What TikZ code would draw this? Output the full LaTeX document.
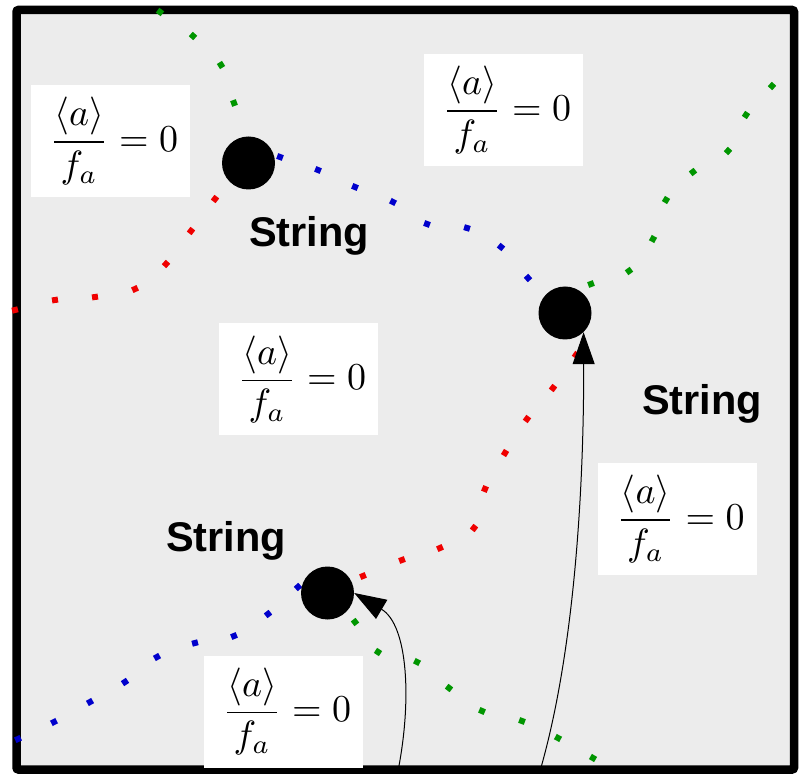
\documentclass[tikz,border=0pt]{standalone}
\usepackage{graphicx}
\usepackage{fontspec}
\newfontfamily\strfont{Liberation Sans}
\usetikzlibrary{arrows.meta}
\definecolor{bggray}{HTML}{ECECEC}
\definecolor{dred}{HTML}{F00000}
\definecolor{dblue}{HTML}{0000CC}
\definecolor{dgreen}{HTML}{009600}
\tikzset{
 sq/.style={rectangle, minimum size=6pt, inner sep=0pt, outer sep=0pt, fill=#1},
 core/.style={circle, fill=black, minimum size=53pt, inner sep=0pt},
 eqbox/.style={fill=white, minimum width=159pt, minimum height=112pt, inner sep=0pt},
 lab/.style={anchor=base, inner sep=0pt, font=\strfont\bfseries\fontsize{41.5}{44}\selectfont},
 arr/.style={line width=1pt, -{Triangle[length=32pt,width=22pt]}},
 frame/.style={line width=8.5pt, rounded corners=2pt, fill=bggray}
}
\newcommand\myeqn{\hspace*{7pt}\scalebox{3.8}{$\displaystyle\frac{\langle a\rangle}{f_a}=0$}}
\begin{document}
\begin{tikzpicture}[x=1pt,y=-1pt]
\useasboundingbox (0,0) rectangle (806,775);
\draw[frame] (16.5,10) rectangle (794,769.5);

% formula boxes
\node[eqbox] (e1) at (110.5,141) {\myeqn};
\node[eqbox] (e2) at (503.5,110) {\myeqn};
\node[eqbox] (e3) at (298.5,379.5) {\myeqn};
\node[eqbox] (e4) at (677,519) {\myeqn};
\node[eqbox] (e5) at (283.5,711.5) {\myeqn};

% red dotted strings
\foreach \x/\y/\a [count=\i] in {15/310/14, 55/300/9, 95/297/8, 135/289/25, 166/264/46, 191/231/53, 215/199/53}
  \node[sq=dred, rotate=\a] (ra\i) at (\x,\y) {};
\foreach \x/\y/\a [count=\i] in {576/355/55, 553/388/53, 527/419/54, 505/453/59, 485/489/67, 474/528/53, 440/548/24, 402/560/20, 363/576/22}
  \node[sq=dred, rotate=\a] (rb\i) at (\x,\y) {};
% blue dotted strings
\foreach \x/\y/\a [count=\i] in {280/157/-19, 318/170/-22, 355/187/-23, 393/202/-27, 427/224/-19, 467/228/-17, 501/247/-39, 528/278/-49}
  \node[sq=dblue, rotate=\a] (ba\i) at (\x,\y) {};
\foreach \x/\y/\a [count=\i] in {298/587/42, 268/614/37, 234/636/22, 195/643/15, 157/657/29, 125/682/34, 90/702/29, 54/722/27, 18/739/25}
  \node[sq=dblue, rotate=\a] (bb\i) at (\x,\y) {};
% green dotted strings
\foreach \x/\y/\a [count=\i] in {160/12/-36, 193/36/-41, 221/65/-58, 234/103/-71}
  \node[sq=dgreen, rotate=\a] (ga\i) at (\x,\y) {};
\foreach \x/\y/\a [count=\i] in {591/284/19, 629/271/36, 653/239/62, 666/200/59, 693/172/38, 728/151/47, 746/115/56, 772/86/48}
  \node[sq=dgreen, rotate=\a] (gb\i) at (\x,\y) {};
\foreach \x/\y/\a [count=\i] in {355/622/-52, 378/652/-33, 417/662/-27, 449/688/-37, 482/711/-24, 522/721/-20, 558/738/-28, 593/758/-30}
  \node[sq=dgreen, rotate=\a] (gc\i) at (\x,\y) {};

% string cores
\node[core] (c1) at (248.5,163) {};
\node[core] (c2) at (565,313) {};
\node[core] (c3) at (327.5,593) {};

% labels
\node[lab] (s1) at (309,247) {String};
\node[lab] (s2) at (702,414) {String};
\node[lab] (s3) at (226,551) {String};

% arrows
\coordinate (a1) at (398,771);
\coordinate (a2) at (540,771);
\draw[arr] (a1) .. controls (412,700) and (408,625) .. (c3.east);
\draw[arr] (a2) .. controls (578,640) and (584,460) .. (c2.-46);
\end{tikzpicture}
\end{document}
